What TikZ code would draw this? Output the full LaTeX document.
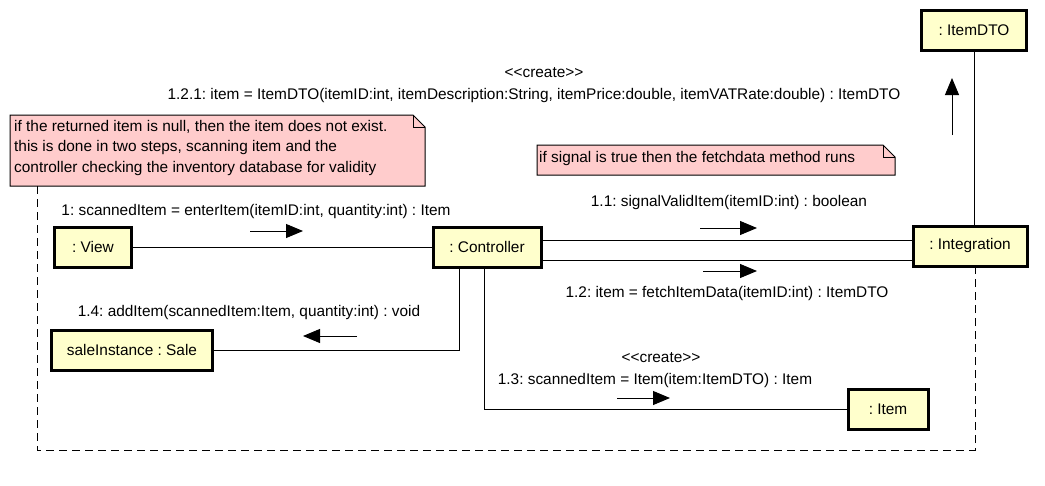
\documentclass[tikz,border=0pt]{standalone}
\usepackage{fontspec}
\setmainfont{Liberation Sans}
\usetikzlibrary{arrows.meta,positioning,backgrounds}
\definecolor{objyellow}{HTML}{FFFFCC}
\definecolor{notepink}{HTML}{FFCCCC}
\frenchspacing

\begin{document}
\begin{tikzpicture}[
  x=1pt, y=-1pt,
  every node/.style={font=\fontsize{15.4}{20.5}\selectfont, inner sep=0pt},
  obj/.style={draw, line width=3pt, fill=objyellow, minimum height=40pt, align=center},
  link/.style={line width=1pt},
  msg/.style={line width=1pt, -{Triangle[length=17pt, width=14pt]}},
  notebox/.style={align=left, anchor=north west},
  noteline/.style={line width=1pt, fill=notepink},
  frame/.style={line width=1pt, dash pattern=on 8pt off 5pt},
]
  \useasboundingbox (0,0) rectangle (1045,485);

  % Objects
  \node[obj, minimum width=77pt] (view) at (93,247) {: View};
  \node[obj, minimum width=108pt] (ctrl) at (487,247) {: Controller};
  \node[obj, minimum width=114pt] (integ) at (970,246) {: Integration};
  \node[obj, minimum width=105pt] (dto) at (974,30) {: ItemDTO};
  \node[obj, minimum width=161pt] (sale) at (132,350) {saleInstance : Sale};
  \node[obj, minimum width=80pt] (item) at (888,409) {: Item};

  % Notes
  \node[notebox] (note1) at (14,120) {if the returned item is null, then the item does not exist.\\this is done in two steps, scanning item and the\\controller checking the inventory database for validity};
  \node[notebox] (note2) at (539,151) {if signal is true then the fetchdata method runs};
  \begin{scope}[on background layer]
    \draw[noteline] (10,115) -- (413,115) -- (425,127) -- (425,186) -- (10,186) -- cycle;
    \draw[line width=1pt] (413,115) -- (413,127) -- (425,127);
    \draw[noteline] (537,145) -- (883,145) -- (895,157) -- (895,175) -- (537,175) -- cycle;
    \draw[line width=1pt] (883,145) -- (883,157) -- (895,157);
  \end{scope}

  % Links
  \draw[link] (view) -- (ctrl);
  \draw[link] ([yshift=7pt]ctrl.east) -- ([yshift=6pt]integ.west);
  \draw[link] ([yshift=-13pt]ctrl.east) -- ([yshift=-14pt]integ.west);
  \draw[link] (dto.south) -- (dto.south |- integ.north);
  \draw[link] (sale.east) -| ([xshift=-28pt]ctrl.south);
  \draw[link] ([xshift=-3pt]ctrl.south) |- (item.west);
  \coordinate (n1) at (37,186);
  \draw[frame] (n1) -- (37,450) -| (integ.south -| 975,0);

  % Messages
  \node (m1) at (256,212) {1: scannedItem = enterItem(itemID:int, quantity:int) : Item};
  \node (m11) at (729,203) {1.1: signalValidItem(itemID:int) : boolean};
  \node (m12) at (727,294) {1.2: item = fetchItemData(itemID:int) : ItemDTO};
  \node (m14) at (249,313) {1.4: addItem(scannedItem:Item, quantity:int) : void};
  \node (c13) at (661,358) {<{}<create>{}>};
  \node (m13) at (655,381) {1.3: scannedItem = Item(item:ItemDTO) : Item};
  \node (c121) at (544,73) {<{}<create>{}>};
  \node (m121) at (534,96) {1.2.1: item = ItemDTO(itemID:int, itemDescription:String, itemPrice:double, itemVATRate:double) : ItemDTO};

  \draw[msg] (250,231) coordinate (a1s) -- (303,231) coordinate (a1e);
  \draw[msg] (700,228) coordinate (a11s) -- (757,228) coordinate (a11e);
  \draw[msg] (703,271) coordinate (a12s) -- (757,271) coordinate (a12e);
  \draw[msg] (357,336) coordinate (a14s) -- (303,336) coordinate (a14e);
  \draw[msg] (617,398) coordinate (a13s) -- (670,398) coordinate (a13e);
  \draw[msg] (952,135) coordinate (a121s) -- (952,78) coordinate (a121e);
\end{tikzpicture}
\end{document}
